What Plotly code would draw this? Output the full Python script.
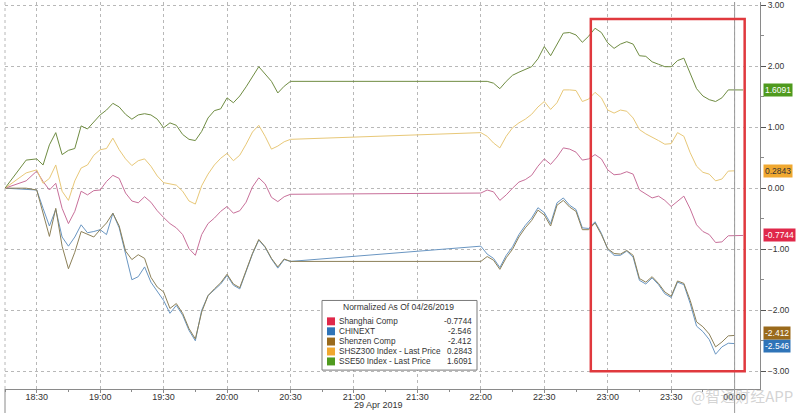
import pandas as pd
import plotly.graph_objects as go

# ---------------- data (normalized % change vs 04/26/2019) ----------------
pre_times = ["2019-04-29 18:15", "2019-04-29 18:25"]
am_times = pd.date_range("2019-04-29 18:30", "2019-04-29 20:30", freq="3min")
pm_times = pd.date_range("2019-04-29 22:00", "2019-04-30 00:00", freq="3min")
close_time = "2019-04-30 00:04"

series_names = ["Shanghai Comp", "CHINEXT", "Shenzen Comp",
                "SHSZ300 Index - Last Price", "SSE50 Index - Last Price"]
last_values = [-0.7744, -2.546, -2.412, 0.2843, 1.6091]
last_labels = ["-0.7744", "-2.546", "-2.412", "0.2843", "1.6091"]

sse50_pre = [0, 0.46]
sse50_am = [0.48, 0.38, 0.71, 0.91, 0.55, 0.62, 0.65, 1.02, 0.97, 1.08,
            1.20, 1.28, 1.39, 1.33, 1.21, 1.13, 1.20, 1.22, 1.20, 1.13,
            0.99, 1.07, 1.03, 0.88, 0.80, 0.78, 0.93, 1.15, 1.27, 1.30,
            1.48, 1.40, 1.51, 1.66, 1.83, 1.99, 1.87, 1.75, 1.56, 1.67, 1.75]
sse50_pm = [1.76, 1.75, 1.72, 1.63, 1.75, 1.85, 1.90, 1.94, 1.99, 2.12,
            2.32, 2.17, 2.35, 2.54, 2.55, 2.51, 2.39, 2.49, 2.62, 2.55,
            2.38, 2.29, 2.36, 2.40, 2.36, 2.17, 2.16, 2.07, 2.03, 1.99,
            1.99, 2.09, 2.13, 1.89, 1.63, 1.51, 1.45, 1.42, 1.48, 1.61, 1.6091]

shsz300_pre = [0, 0.25]
shsz300_am = [0.30, 0.08, 0.16, 0.38, -0.05, -0.20, 0.12, 0.33, 0.38, 0.54,
              0.63, 0.65, 0.82, 0.63, 0.48, 0.37, 0.45, 0.48, 0.36, 0.20,
              0.09, 0.07, 0.05, -0.05, -0.21, -0.26, 0.04, 0.23, 0.38, 0.49,
              0.57, 0.45, 0.54, 0.72, 0.92, 1.03, 0.85, 0.64, 0.69, 0.76, 0.80]
shsz300_pm = [0.91, 0.85, 0.74, 0.66, 0.85, 0.99, 1.07, 1.13, 1.21, 1.33,
              1.42, 1.29, 1.40, 1.61, 1.61, 1.60, 1.42, 1.46, 1.57, 1.48,
              1.28, 1.23, 1.28, 1.26, 1.15, 0.96, 0.89, 0.84, 0.78, 0.72,
              0.73, 0.91, 0.85, 0.58, 0.36, 0.26, 0.23, 0.12, 0.15, 0.28, 0.2843]

shcomp_pre = [0, 0.12]
shcomp_am = [0.28, 0.11, -0.03, 0.08, -0.33, -0.58, -0.38, -0.05, -0.11, -0.04,
             -0.03, 0.11, 0.21, 0.16, -0.08, -0.21, -0.24, -0.14, -0.23, -0.37,
             -0.48, -0.58, -0.65, -0.76, -0.99, -1.10, -0.76, -0.58, -0.49, -0.38,
             -0.30, -0.41, -0.37, -0.23, 0.02, 0.17, 0.07, -0.15, -0.22, -0.14, -0.10]
shcomp_pm = [-0.08, -0.03, -0.06, -0.20, -0.11, 0.00, 0.10, 0.14, 0.21, 0.36,
             0.48, 0.39, 0.51, 0.66, 0.64, 0.59, 0.46, 0.48, 0.55, 0.48,
             0.30, 0.22, 0.23, 0.27, 0.23, -0.03, -0.10, -0.16, -0.13, -0.20,
             -0.30, -0.21, -0.13, -0.34, -0.60, -0.71, -0.76, -0.89, -0.88, -0.78, -0.7744]

chinext_pre = [0, -0.02]
chinext_am = [-0.03, -0.33, -0.62, -0.35, -0.80, -0.95, -0.80, -0.60, -0.73, -0.71,
              -0.68, -0.76, -0.41, -0.65, -1.09, -1.50, -1.45, -1.29, -1.54, -1.70,
              -1.84, -2.05, -1.92, -2.08, -2.33, -2.50, -2.00, -1.76, -1.67, -1.57,
              -1.43, -1.59, -1.65, -1.38, -1.08, -0.85, -0.97, -1.16, -1.31, -1.17, -1.20]
chinext_pm = [-0.95, -1.08, -1.15, -1.30, -1.10, -0.96, -0.76, -0.61, -0.49, -0.32,
              -0.40, -0.58, -0.24, -0.16, -0.28, -0.35, -0.65, -0.66, -0.55, -0.74,
              -1.00, -1.10, -1.10, -1.03, -1.13, -1.51, -1.57, -1.47, -1.58, -1.73,
              -1.79, -1.54, -1.58, -1.89, -2.26, -2.35, -2.48, -2.72, -2.60, -2.54, -2.546]

szcomp_pre = [0, 0.0]
szcomp_am = [-0.03, -0.43, -0.79, -0.33, -0.95, -1.32, -1.05, -0.71, -0.76, -0.80,
             -0.68, -0.57, -0.41, -0.62, -1.03, -1.17, -1.09, -1.15, -1.46, -1.62,
             -1.70, -1.97, -1.89, -2.05, -2.30, -2.47, -2.03, -1.76, -1.65, -1.55,
             -1.41, -1.57, -1.63, -1.36, -1.07, -0.84, -0.96, -1.15, -1.29, -1.16, -1.20]
szcomp_pm = [-1.20, -1.12, -1.18, -1.33, -1.14, -1.00, -0.80, -0.65, -0.53, -0.36,
             -0.44, -0.62, -0.28, -0.20, -0.31, -0.38, -0.68, -0.68, -0.57, -0.76,
             -0.99, -1.07, -1.08, -1.02, -1.10, -1.48, -1.54, -1.45, -1.56, -1.70,
             -1.77, -1.52, -1.56, -1.84, -2.19, -2.27, -2.39, -2.60, -2.52, -2.42, -2.412]

line_colors = ["#c8709a", "#6a96c2", "#8c8058", "#e8c878", "#6f8c42"]
box_colors = ["#e0284a", "#2f74b8", "#9a6a1c", "#f0a830", "#4f9a1e"]
box_text_colors = ["white", "white", "white", "#333333", "white"]

# ---------------- figure ----------------
fig = go.Figure()

am_list = list(am_times)
pm_list = list(pm_times)

def add_series(pre, am, pm, color, extend):
    xs = [pd.Timestamp(t) for t in pre_times] + am_list + pm_list
    ys = list(pre) + list(am) + list(pm)
    if extend:
        xs.append(pd.Timestamp(close_time))
        ys.append(pm[-1])
    fig.add_trace(go.Scatter(x=xs, y=ys, mode="lines",
                             line=dict(color=color, width=1.0),
                             showlegend=False, hoverinfo="skip"))

add_series(chinext_pre, chinext_am, chinext_pm, line_colors[1], False)
add_series(szcomp_pre, szcomp_am, szcomp_pm, line_colors[2], False)
add_series(shcomp_pre, shcomp_am, shcomp_pm, line_colors[0], True)
add_series(shsz300_pre, shsz300_am, shsz300_pm, line_colors[3], False)
add_series(sse50_pre, sse50_am, sse50_pm, line_colors[4], True)

grid_col = "#b8b8b8"
axis_col = "#8a8a8a"
font_fam = "Liberation Sans, Arial, sans-serif"

fig.update_layout(
    width=800, height=413,
    margin=dict(l=5, r=40, t=0, b=24),
    paper_bgcolor="white", plot_bgcolor="white",
    font=dict(family=font_fam, size=9, color="#333333"),
    showlegend=False,
    xaxis=dict(
        type="date",
        range=["2019-04-29 18:15", "2019-04-30 00:12"],
        tick0="2019-04-29 18:30", dtick=30 * 60 * 1000,
        tickformat="%H:%M",
        showline=True, linecolor=axis_col, linewidth=1,
        ticks="outside", ticklen=3, tickcolor=axis_col,
        ticklabelstandoff=-4,
        showgrid=True, gridcolor=grid_col, griddash="dot", gridwidth=1,
        zeroline=False,
        tickfont=dict(size=9, color="#333333"),
        minor=dict(dtick=15 * 60 * 1000, ticks="outside", ticklen=2,
                   tickcolor=axis_col, showgrid=False),
    ),
    yaxis=dict(
        side="right",
        range=[-3.29, 3.05],
        tick0=0, dtick=1, tickformat=".2f",
        showline=True, linecolor=axis_col, linewidth=1,
        ticks="outside", ticklen=5, tickcolor="#555555",
        ticklabeloverflow="allow",
        showgrid=True, gridcolor=grid_col, griddash="dot", gridwidth=1,
        zeroline=False,
        tickfont=dict(size=8.5, color="#333333"),
        minor=dict(dtick=0.5, ticks="outside", ticklen=3,
                   tickcolor=axis_col, showgrid=False),
    ),
)

shapes = []
# left edge dotted boundary
shapes.append(dict(type="line", xref="paper", yref="paper", x0=0, x1=0, y0=0, y1=1,
                   line=dict(color=grid_col, width=1, dash="dot")))
# left edge tick below axis
shapes.append(dict(type="line", xref="paper", yref="paper", x0=0, x1=0, y0=-0.062, y1=0,
                   line=dict(color=axis_col, width=1)))
# day boundary at 00:00 (solid)
shapes.append(dict(type="line", xref="x", yref="paper",
                   x0="2019-04-30 00:00", x1="2019-04-30 00:00", y0=-0.062, y1=1,
                   line=dict(color="#9a9a9a", width=1)))
# red highlight rectangle
shapes.append(dict(type="rect", xref="x", yref="y",
                   x0="2019-04-29 22:52", x1="2019-04-30 00:04:45", y0=-3.0, y1=2.77,
                   line=dict(color="#e0393e", width=2.5), fillcolor="rgba(0,0,0,0)"))

# legend box built from shapes + text
def px_x(px):
    return (px - 5) / 755.0

def px_y(py):
    return 1 - py / 389.0

shapes.append(dict(type="rect", xref="paper", yref="paper",
                   x0=px_x(322), x1=px_x(477), y0=px_y(370), y1=px_y(300),
                   line=dict(color="#7a7a7a", width=1), fillcolor="white"))

annotations = []
annotations.append(dict(xref="paper", yref="paper", x=px_x(399), y=px_y(306.5),
                        text="Normalized As Of 04/26/2019", showarrow=False,
                        xanchor="center", yanchor="middle",
                        font=dict(size=8.5, color="#333333")))
row_y = [321, 331, 341.3, 351.3, 361.3]
for i, name in enumerate(series_names):
    yy = row_y[i]
    shapes.append(dict(type="rect", xref="paper", yref="paper",
                       x0=px_x(327), x1=px_x(335), y0=px_y(yy + 4), y1=px_y(yy - 4),
                       line=dict(width=0), fillcolor=box_colors[i]))
    annotations.append(dict(xref="paper", yref="paper", x=px_x(337), y=px_y(yy),
                            text=name, showarrow=False, xanchor="left", yanchor="middle",
                            font=dict(size=8.2, color="#333333")))
    annotations.append(dict(xref="paper", yref="paper", x=px_x(474), y=px_y(yy),
                            text=last_labels[i],
                            showarrow=False, xanchor="right", yanchor="middle",
                            font=dict(size=8.2, color="#333333")))

# last-value tags on the right axis
tag_shift = [0, -2, 2, 0, 0]
for i in range(5):
    annotations.append(dict(xref="paper", yref="y", x=1, y=last_values[i],
                            xanchor="left", yanchor="middle", xshift=3, yshift=tag_shift[i],
                            text=last_labels[i], showarrow=False,
                            bgcolor=box_colors[i], borderpad=1,
                            font=dict(size=8.5, color=box_text_colors[i])))

# date label
annotations.append(dict(xref="x", yref="paper", x="2019-04-29 21:00", y=px_y(405),
                        xanchor="left", yanchor="middle", xshift=-2,
                        text="29 Apr 2019", showarrow=False,
                        font=dict(size=9, color="#333333")))
# watermark
annotations.append(dict(xref="paper", yref="paper", x=px_x(742), y=px_y(396),
                        xanchor="center", yanchor="middle",
                        text="@智通财经APP", showarrow=False,
                        font=dict(family="Noto Sans CJK SC", size=15,
                                  color="rgba(175,175,175,0.55)")))

fig.update_layout(shapes=shapes, annotations=annotations)

fig.write_html("out.html", config={"displayModeBar": False},
               post_script="document.body.style.margin='0';")
